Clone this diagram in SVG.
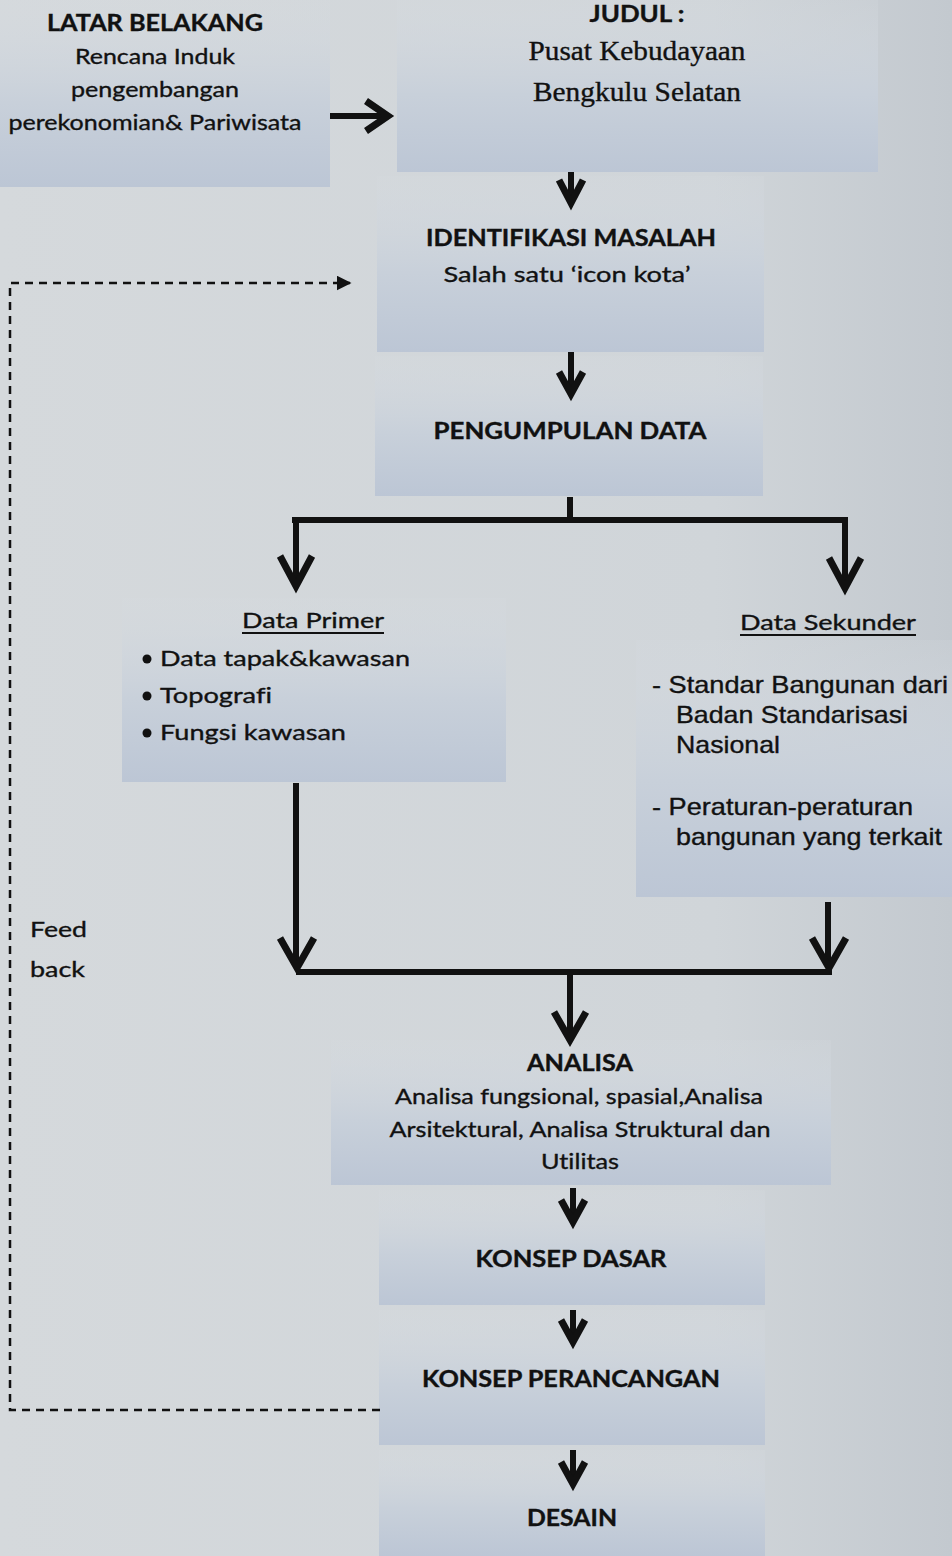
<svg xmlns="http://www.w3.org/2000/svg" width="952" height="1556" viewBox="0 0 952 1556">
<defs>
<linearGradient id="bg" x1="0" y1="0" x2="1" y2="0">
<stop offset="0" stop-color="#d5d9dc"/>
<stop offset="0.75" stop-color="#d0d5d9"/>
<stop offset="1" stop-color="#c3c9cf"/>
</linearGradient>
<linearGradient id="box" x1="0" y1="0" x2="0" y2="1">
<stop offset="0" stop-color="#d6dbe0" stop-opacity="0.2"/>
<stop offset="0.55" stop-color="#c8d0da"/>
<stop offset="1" stop-color="#bcc6d5"/>
</linearGradient>
<marker id="tri" viewBox="0 0 10 10" refX="9" refY="5" markerWidth="6" markerHeight="6" orient="auto" markerUnits="strokeWidth">
<path d="M0,0 L10,5 L0,10 Z" fill="#111"/>
</marker>
</defs>
<style>
.bx{fill:url(#box)}
text{font-family:Lato,"Open Sans","Liberation Sans",sans-serif;fill:#111;font-size:22px;stroke:#111;stroke-width:0.35;font-variant-ligatures:none}
.b{font-weight:bold}
.c{text-anchor:middle}
.serif{font-family:"Liberation Serif","DejaVu Serif",serif;font-size:27px}
.ar{font-family:"Liberation Sans",Arial,sans-serif;font-size:24px}
.ln{stroke:#111;fill:none;stroke-width:6}
.hd{stroke:#111;fill:none;stroke-width:7;stroke-linejoin:miter}
.ul{stroke:#111;stroke-width:2}
.dash{stroke:#111;fill:none;stroke-width:2.5;stroke-dasharray:8 6}
</style>
<rect width="952" height="1556" fill="url(#bg)"/>

<g id="latar">
<rect class="bx" x="0" y="0" width="330" height="187"/>
<text class="b c" x="155" y="31" textLength="216" lengthAdjust="spacingAndGlyphs">LATAR BELAKANG</text>
<text class="c" x="155" y="64" textLength="160" lengthAdjust="spacingAndGlyphs">Rencana Induk</text>
<text class="c" x="155" y="97" textLength="168" lengthAdjust="spacingAndGlyphs">pengembangan</text>
<text class="c" x="155" y="130" textLength="293" lengthAdjust="spacingAndGlyphs">perekonomian&amp; Pariwisata</text>
</g>

<g id="judul">
<rect class="bx" x="397" y="0" width="481" height="172"/>
<text class="b c" x="637" y="22" textLength="95" lengthAdjust="spacingAndGlyphs">JUDUL :</text>
<text class="serif c" x="637" y="60" textLength="217" lengthAdjust="spacingAndGlyphs">Pusat Kebudayaan</text>
<text class="serif c" x="637" y="101" textLength="208" lengthAdjust="spacingAndGlyphs">Bengkulu Selatan</text>
</g>

<g id="identifikasi">
<rect class="bx" x="377" y="176" width="387" height="176"/>
<text class="b c" x="571" y="246" textLength="290" lengthAdjust="spacingAndGlyphs">IDENTIFIKASI MASALAH</text>
<text class="c" x="567" y="282" textLength="247" lengthAdjust="spacingAndGlyphs">Salah satu ‘icon kota’</text>
</g>

<g id="pengumpulan">
<rect class="bx" x="375" y="356" width="388" height="140"/>
<text class="b c" x="570" y="439" textLength="273" lengthAdjust="spacingAndGlyphs">PENGUMPULAN DATA</text>
</g>

<g id="primer">
<rect class="bx" x="122" y="598" width="384" height="184"/>
<text class="c" x="313" y="628" textLength="142" lengthAdjust="spacingAndGlyphs">Data Primer</text>
<line class="ul" x1="242" y1="633" x2="384" y2="633"/>
<circle cx="147" cy="659" r="4.5" fill="#111"/>
<text x="160" y="666" textLength="250" lengthAdjust="spacingAndGlyphs">Data tapak&amp;kawasan</text>
<circle cx="147" cy="696" r="4.5" fill="#111"/>
<text x="160" y="703" textLength="112" lengthAdjust="spacingAndGlyphs">Topografi</text>
<circle cx="147" cy="733" r="4.5" fill="#111"/>
<text x="160" y="740" textLength="186" lengthAdjust="spacingAndGlyphs">Fungsi kawasan</text>
</g>

<g id="sekunder">
<rect class="bx" x="636" y="640" width="316" height="257"/>
<text class="c" x="828" y="630" textLength="176" lengthAdjust="spacingAndGlyphs">Data Sekunder</text>
<line class="ul" x1="740" y1="635" x2="916" y2="635"/>
<text class="ar" x="652" y="693" textLength="296" lengthAdjust="spacingAndGlyphs">- Standar Bangunan dari</text>
<text class="ar" x="676" y="723" textLength="232" lengthAdjust="spacingAndGlyphs">Badan Standarisasi</text>
<text class="ar" x="676" y="753" textLength="104" lengthAdjust="spacingAndGlyphs">Nasional</text>
<text class="ar" x="652" y="815" textLength="261" lengthAdjust="spacingAndGlyphs">- Peraturan-peraturan</text>
<text class="ar" x="676" y="845" textLength="266" lengthAdjust="spacingAndGlyphs">bangunan yang terkait</text>
</g>

<g id="feedback">
<text x="30" y="937" textLength="57" lengthAdjust="spacingAndGlyphs">Feed</text>
<text x="30" y="977" textLength="55" lengthAdjust="spacingAndGlyphs">back</text>
</g>

<g id="analisa">
<rect class="bx" x="331" y="1040" width="500" height="145"/>
<text class="b c" x="580" y="1071" textLength="106" lengthAdjust="spacingAndGlyphs">ANALISA</text>
<text class="c" x="579" y="1104" textLength="368" lengthAdjust="spacingAndGlyphs">Analisa fungsional, spasial,Analisa</text>
<text class="c" x="580" y="1137" textLength="381" lengthAdjust="spacingAndGlyphs">Arsitektural, Analisa Struktural dan</text>
<text class="c" x="580" y="1169" textLength="78" lengthAdjust="spacingAndGlyphs">Utilitas</text>
</g>

<g id="konsep-dasar">
<rect class="bx" x="379" y="1190" width="386" height="115"/>
<text class="b c" x="571" y="1267" textLength="191" lengthAdjust="spacingAndGlyphs">KONSEP DASAR</text>
</g>

<g id="konsep-perancangan">
<rect class="bx" x="379" y="1310" width="386" height="135"/>
<text class="b c" x="571" y="1387" textLength="298" lengthAdjust="spacingAndGlyphs">KONSEP PERANCANGAN</text>
</g>

<g id="desain">
<rect class="bx" x="379" y="1450" width="386" height="106"/>
<text class="b c" x="572" y="1526" textLength="90" lengthAdjust="spacingAndGlyphs">DESAIN</text>
</g>

<g id="connectors">
<path class="ln" d="M330,116 L388,116" stroke-width="7"/>
<path class="hd" d="M366,101 L388,116 L366,131"/>
<path class="ln" d="M571,172 L571,204" stroke-width="7"/>
<path class="hd" d="M559,180 L571,203 L583,180"/>
<path class="ln" d="M571,352 L571,394" stroke-width="7"/>
<path class="hd" d="M559,372 L571,394 L583,372"/>
<path class="ln" d="M570,497 L570,520 M292,520 L848,520"/>
<path class="ln" d="M296,520 L296,586"/>
<path class="hd" d="M280,556 L296,586 L312,556"/>
<path class="ln" d="M845,520 L845,588"/>
<path class="hd" d="M829,558 L845,588 L861,558"/>
<path class="ln" d="M296,783 L296,968"/>
<path class="hd" d="M280,938 L297,968 L314,938"/>
<path class="ln" d="M828,902 L828,968"/>
<path class="hd" d="M812,938 L829,968 L846,938"/>
<path class="ln" d="M296,972 L832,972"/>
<path class="ln" d="M570,972 L570,1040"/>
<path class="hd" d="M554,1012 L570,1040 L586,1012"/>
<path class="ln" d="M573,1188 L573,1222" stroke-width="7"/>
<path class="hd" d="M561,1200 L573,1222 L585,1200"/>
<path class="ln" d="M573,1310 L573,1342" stroke-width="7"/>
<path class="hd" d="M561,1320 L573,1342 L585,1320"/>
<path class="ln" d="M573,1450 L573,1484" stroke-width="7"/>
<path class="hd" d="M561,1462 L573,1484 L585,1462"/>
<path class="dash" d="M380,1410 L10,1410 L10,283 L350,283" marker-end="url(#tri)"/>
</g>
</svg>
